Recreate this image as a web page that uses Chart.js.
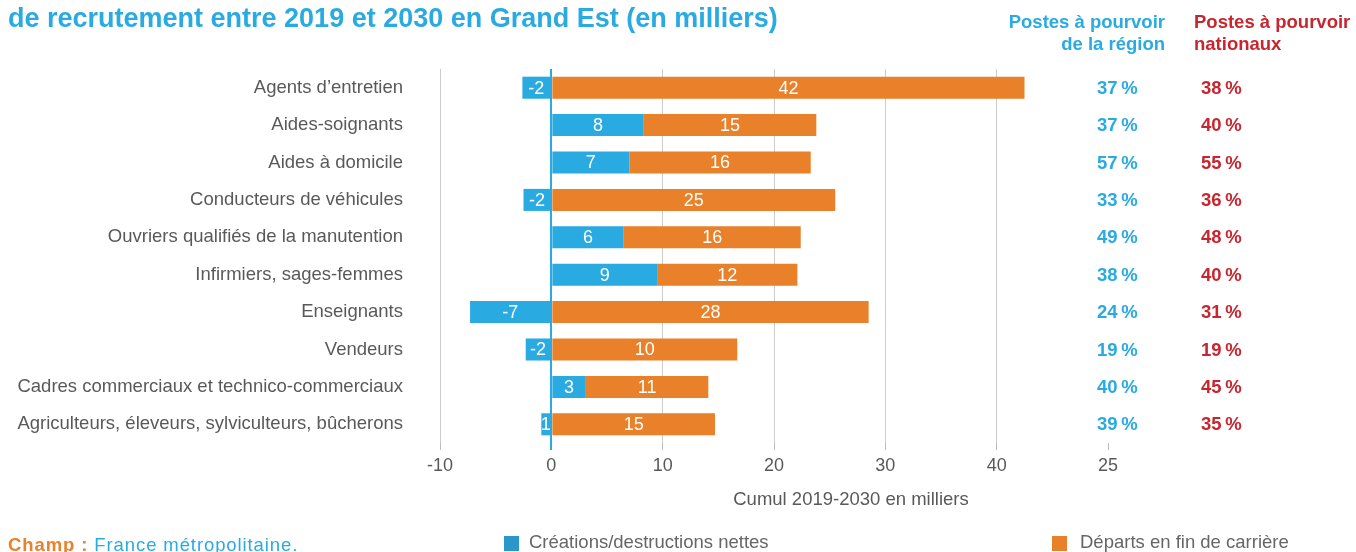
<!DOCTYPE html>
<html>
<head>
<meta charset="utf-8">
<script src="https://cdn.jsdelivr.net/npm/chart.js@4/dist/chart.umd.min.js"></script>
<style>
  body { margin: 0; background: #fff; font-family: "Liberation Sans", Arial, sans-serif; }
  #wrap { position: relative; width: 1356px; height: 552px; overflow: hidden; }
  #wrap canvas { position: absolute; left: 0; top: 0; }
  .txt { position: absolute; white-space: nowrap; }
  .title { left: 8px; top: 3px; font-size: 27px; font-weight: bold; color: #29abe2; }
  .hreg { right: 191px; top: 11px; text-align: right; font-size: 18.5px; font-weight: bold; color: #29abe2; line-height: 22px; }
  .hnat { left: 1194px; top: 11px; font-size: 18.5px; font-weight: bold; color: #c8262f; line-height: 22px; }
  .leg { font-size: 18.5px; color: #666; top: 531px; }
  .sw { position: absolute; width: 15px; height: 15px; top: 536px; }
  .foot { left: 8px; top: 534px; font-size: 18.5px; color: #29abe2; letter-spacing: 0.9px; }
  .foot b { color: #e8812a; }
</style>
</head>
<body>
<div id="wrap">
  <canvas id="chart" width="1356" height="552"></canvas>
  <div class="txt title">de recrutement entre 2019 et 2030 en Grand Est (en milliers)</div>
  <div class="txt hreg">Postes à pourvoir<br>de la région</div>
  <div class="txt hnat">Postes à pourvoir<br>nationaux</div>
  <div class="sw" style="left:504px;background:#2a96cc"></div>
  <div class="txt leg" style="left:529px">Créations/destructions nettes</div>
  <div class="sw" style="left:1052px;background:#e8812a"></div>
  <div class="txt leg" style="left:1080px">Départs en fin de carrière</div>
  <div class="txt foot"><b>Champ :</b> France métropolitaine.</div>
</div>
<script>
const metiers = [
  "Agents d’entretien",
  "Aides-soignants",
  "Aides à domicile",
  "Conducteurs de véhicules",
  "Ouvriers qualifiés de la manutention",
  "Infirmiers, sages-femmes",
  "Enseignants",
  "Vendeurs",
  "Cadres commerciaux et technico-commerciaux",
  "Agriculteurs, éleveurs, sylviculteurs, bûcherons"
];
const creations = [-2.6, 8.3, 7.0, -2.5, 6.5, 9.5, -7.3, -2.3, 3.1, -0.9];
const departs = [42.5, 15.5, 16.3, 25.5, 15.9, 12.6, 28.5, 16.7, 11.0, 14.7];
const creationsLabels = ["-2", "8", "7", "-2", "6", "9", "-7", "-2", "3", "1"];
const departsLabels = ["42", "15", "16", "25", "16", "12", "28", "10", "11", "15"];
const postesRegion = [37, 37, 57, 33, 49, 38, 24, 19, 40, 39];
const postesNationaux = [38, 40, 55, 36, 48, 40, 31, 19, 45, 35];
const xTicks = [-10, 0, 10, 20, 30, 40, 50];
const xTickLabels = ["-10", "0", "10", "20", "30", "40", "25"];

const BLUE = "#29abe2";
const ORANGE = "#e8812a";
const RED = "#c8262f";
const GREY = "#595959";
const FONT = "'Liberation Sans', Arial, sans-serif";

Chart.defaults.font.family = FONT;

const extras = {
  id: "extras",
  afterDatasetsDraw(chart) {
    const ctx = chart.ctx;
    ctx.save();
    ctx.font = "18px " + FONT;
    ctx.fillStyle = "#fff";
    ctx.textAlign = "center";
    ctx.textBaseline = "middle";
    const labelSets = [creationsLabels, departsLabels];
    chart.data.datasets.forEach((ds, di) => {
      chart.getDatasetMeta(di).data.forEach((bar, i) => {
        const cx = (bar.x + bar.base) / 2;
        ctx.fillText(labelSets[di][i], cx, bar.y + 1);
      });
    });
    // colonnes de pourcentages
    ctx.font = "bold 18.5px " + FONT;
    ctx.textAlign = "left";
    chart.getDatasetMeta(0).data.forEach((bar, i) => {
      ctx.fillStyle = BLUE;
      ctx.fillText(postesRegion[i] + "\u202F%", 1097, bar.y + 1);
      ctx.fillStyle = RED;
      ctx.fillText(postesNationaux[i] + "\u202F%", 1201, bar.y + 1);
    });
    // titre de l'axe
    ctx.font = "18.5px " + FONT;
    ctx.fillStyle = GREY;
    ctx.textAlign = "center";
    ctx.fillText("Cumul 2019-2030 en milliers", 851, 500);
    ctx.restore();
  }
};

new Chart(document.getElementById("chart"), {
  type: "bar",
  data: {
    labels: metiers,
    datasets: [
      { label: "Créations/destructions nettes", data: creations, backgroundColor: BLUE, borderWidth: 0 },
      { label: "Départs en fin de carrière", data: departs, backgroundColor: ORANGE, borderWidth: 0 }
    ]
  },
  options: {
    indexAxis: "y",
    responsive: false,
    animation: false,
    barPercentage: 0.9,
    categoryPercentage: 0.655,
    layout: { padding: { top: 69, right: 248, bottom: 0, left: 0 } },
    plugins: { legend: { display: false }, tooltip: { enabled: false } },
    scales: {
      x: {
        stacked: true,
        min: -10,
        max: 50,
        border: { display: false },
        afterBuildTicks(scale) {
          scale.ticks = xTicks.map((v) => ({ value: v }));
        },
        afterFit(scale) { scale.height = 109; },
        grid: {
          color: (c) => (c.tick && c.tick.value === 0 ? BLUE : c.tick && c.tick.value === 50 ? "rgba(0,0,0,0)" : "#cccccc"),
          lineWidth: (c) => (c.tick && c.tick.value === 0 ? 2 : 1),
          tickColor: (c) => (c.tick && c.tick.value === 0 ? BLUE : "#bbbbbb"),
          tickLength: 7
        },
        ticks: {
          color: GREY,
          font: { size: 18 },
          padding: 5,
          callback: (v) => xTickLabels[xTicks.indexOf(v)]
        }
      },
      y: {
        stacked: true,
        border: { display: false },
        grid: { display: false, drawTicks: false },
        afterFit(scale) { scale.width = 440; },
        ticks: { color: GREY, font: { size: 18.5 }, padding: 37 }
      }
    }
  },
  plugins: [extras]
});
</script>
</body>
</html>
